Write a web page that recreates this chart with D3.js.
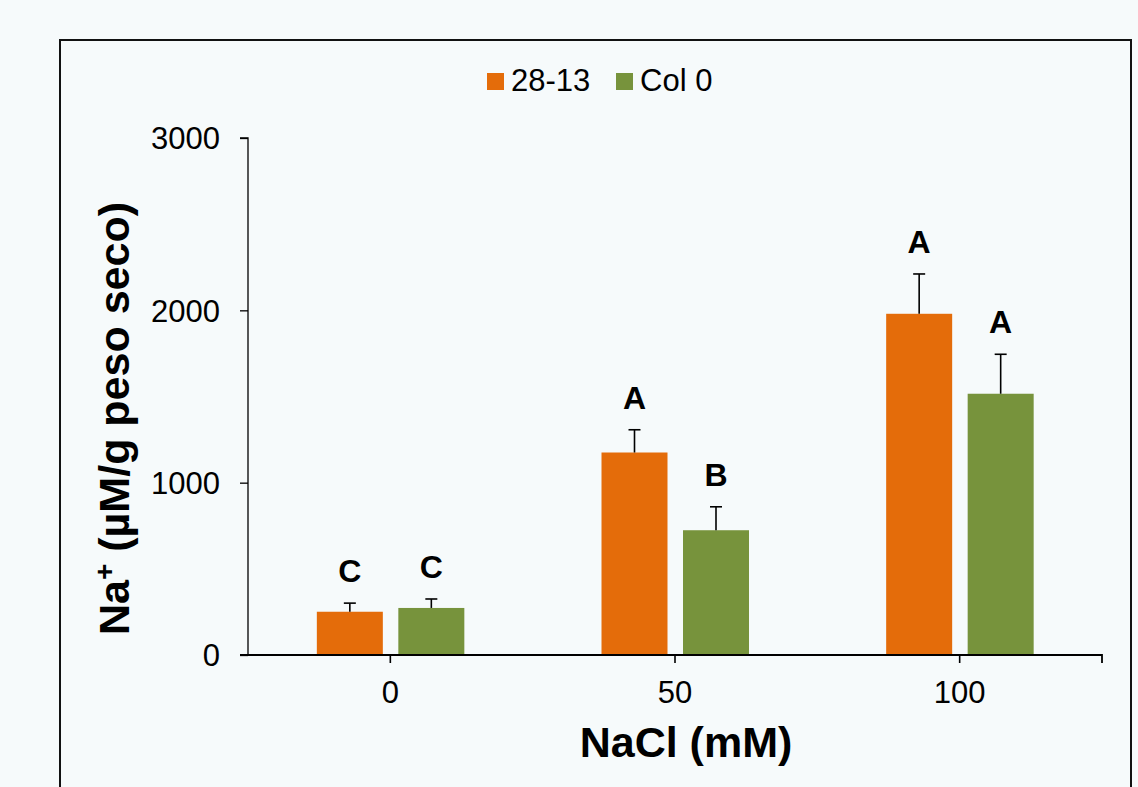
<!DOCTYPE html>
<html>
<head>
<meta charset="utf-8">
<script src="https://cdn.jsdelivr.net/npm/d3@7"></script>
<style>
  html, body { margin: 0; padding: 0; background: #F6FAFB; }
  svg { display: block; }
  text { font-family: "Liberation Sans", Arial, sans-serif; fill: #000; }
</style>
</head>
<body>
<svg id="chart" width="1138" height="787"></svg>
<script>
// ---- data ----
const categories = ["0", "50", "100"];
const seriesNames = ["28-13", "Col 0"];
const values2813 = [251, 1175, 1980];
const valuesCol0 = [273, 724, 1516];
const errors2813 = [50, 132, 231];
const errorsCol0 = [52, 136, 229];
const letters2813 = ["C", "A", "A"];
const lettersCol0 = ["C", "B", "A"];
const yTicks = [0, 1000, 2000, 3000];
const colors = ["#E46C0A", "#77933C"];

const svg = d3.select("#chart");
const W = 1138, H = 787;

svg.append("rect").attr("x", 0).attr("y", 0).attr("width", W).attr("height", H).attr("fill", "#F6FAFB");
// outer frame
svg.append("rect").attr("x", 60).attr("y", 40).attr("width", 1071).attr("height", 800)
  .attr("fill", "none").attr("stroke", "#111").attr("stroke-width", 2);

const x0 = 248, x1 = 1102, yTop = 138, yBot = 655;
const x = d3.scaleBand().domain(categories).range([x0, x1]).padding(0);
const y = d3.scaleLinear().domain([0, 3000]).range([yBot, yTop]);
const sub = d3.scaleOrdinal().domain(seriesNames).range([-40.5, 41]);
const barW = 66;

const series = [
  { name: seriesNames[0], vals: values2813, errs: errors2813, letters: letters2813, color: colors[0] },
  { name: seriesNames[1], vals: valuesCol0, errs: errorsCol0, letters: lettersCol0, color: colors[1] }
];

// bars
series.forEach(s => {
  const g = svg.append("g");
  const cx = (c) => x(c) + x.bandwidth() / 2 + sub(s.name);
  g.selectAll("rect").data(categories).join("rect")
    .attr("x", c => cx(c) - barW / 2)
    .attr("y", (c, i) => y(s.vals[i]))
    .attr("width", barW)
    .attr("height", (c, i) => y(0) - y(s.vals[i]))
    .attr("fill", s.color);
  // error bars
  g.selectAll("line.err").data(categories).join("line").attr("class", "err")
    .attr("x1", c => cx(c)).attr("x2", c => cx(c))
    .attr("y1", (c, i) => y(s.vals[i]))
    .attr("y2", (c, i) => y(s.vals[i] + s.errs[i]))
    .attr("stroke", "#000").attr("stroke-width", 1.6);
  g.selectAll("line.cap").data(categories).join("line").attr("class", "cap")
    .attr("x1", c => cx(c) - 6).attr("x2", c => cx(c) + 6)
    .attr("y1", (c, i) => y(s.vals[i] + s.errs[i]))
    .attr("y2", (c, i) => y(s.vals[i] + s.errs[i]))
    .attr("stroke", "#000").attr("stroke-width", 1.6);
  // letters
  g.selectAll("text").data(categories).join("text")
    .attr("x", c => cx(c))
    .attr("y", (c, i) => y(s.vals[i] + s.errs[i]) - 21)
    .attr("text-anchor", "middle")
    .attr("font-weight", "bold")
    .attr("font-size", 32)
    .text((c, i) => s.letters[i]);
});

// y axis
const yAxis = d3.axisLeft(y).tickValues(yTicks).tickSize(8).tickPadding(20).tickFormat(d3.format("d"));
const gy = svg.append("g").attr("transform", `translate(${x0},0)`).call(yAxis);
gy.select(".domain").attr("stroke", "#000").attr("stroke-width", 1.3).attr("d", `M-8,${yTop}H0V${yBot}`);
gy.selectAll(".tick line").attr("stroke", "#000").attr("stroke-width", 1.3);
gy.selectAll(".tick text").attr("font-size", 31).attr("font-family", "Liberation Sans, Arial, sans-serif").attr("fill", "#000").attr("dy", "0.35em");

// x axis
const xAxis = d3.axisBottom(x).tickSize(8).tickPadding(18);
const gx = svg.append("g").attr("transform", `translate(0,${yBot})`).call(xAxis);
gx.select(".domain").attr("stroke", "#000").attr("stroke-width", 1.8).attr("d", `M240,0H${x1}V8`);
gx.selectAll(".tick line").attr("stroke", "#000").attr("stroke-width", 1.6);
gx.selectAll(".tick text").attr("font-size", 31).attr("font-family", "Liberation Sans, Arial, sans-serif").attr("fill", "#000").attr("dy", "0.71em");

// axis titles
svg.append("text")
  .attr("x", (x0 + x1) / 2 + 11).attr("y", 757)
  .attr("text-anchor", "middle").attr("font-weight", "bold").attr("font-size", 43)
  .text("NaCl (mM)");

const yt = svg.append("text")
  .attr("transform", `translate(129,${(yTop + yBot) / 2 + 22}) rotate(-90)`)
  .attr("text-anchor", "middle").attr("font-weight", "bold").attr("font-size", 43);
yt.append("tspan").text("Na");
yt.append("tspan").attr("font-size", 28).attr("dy", -15).text("+");
yt.append("tspan").attr("dy", 15).text(" (µM/g peso seco)");

// legend
const legend = svg.append("g");
const legX = [487, 616];
series.forEach((s, i) => {
  legend.append("rect").attr("x", legX[i]).attr("y", 73).attr("width", 17).attr("height", 17).attr("fill", s.color);
  legend.append("text").attr("x", legX[i] + 24).attr("y", 91).attr("font-size", 31).text(s.name);
});
</script>
</body>
</html>
